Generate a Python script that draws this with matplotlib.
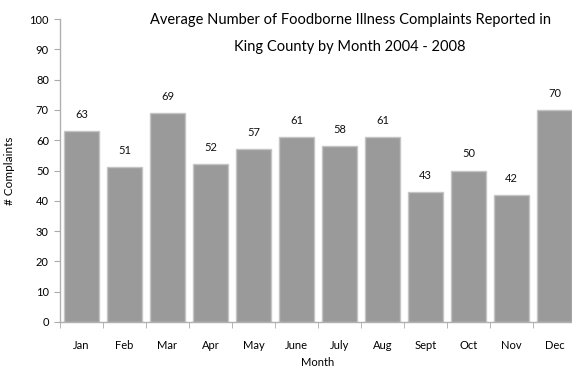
import matplotlib.pyplot as plt
import numpy as np

months = ['Jan', 'Feb', 'Mar', 'Apr', 'May', 'June', 'July', 'Aug', 'Sept', 'Oct', 'Nov', 'Dec']
complaints = [63, 51, 69, 52, 57, 61, 58, 61, 43, 50, 42, 70]

plt.rcParams['font.family'] = ['Lato', 'DejaVu Sans']

fig = plt.figure(figsize=(5.72, 3.68), dpi=100)
ax = fig.add_axes([60 / 572, 46 / 368, 516 / 572, 303 / 368])

x = np.arange(len(months))
bars = ax.bar(x, complaints, width=0.8, color='#9a9a9a', edgecolor='#c4c4c4', linewidth=1)

# value labels above the bars
for xi, v in zip(x, complaints):
    ax.annotate(str(v), (xi, v), xytext=(0, 8), textcoords='offset points',
                ha='center', va='bottom', fontsize=8, color='#111111')

ax.set_xlim(-0.5, len(months) - 0.5)
ax.set_ylim(0, 100)
ax.set_yticks(range(0, 101, 10))
ax.set_xticks(x)
ax.set_xticklabels(months, fontsize=8)
ax.set_xticks(np.arange(-0.5, len(months), 1), minor=True)
ax.tick_params(axis='x', which='major', length=0, pad=13)
ax.tick_params(axis='x', which='minor', length=4, color='#aaaaaa', direction='out')
ax.tick_params(axis='y', length=4, color='#aaaaaa', labelsize=8, pad=4)

for s in ['top', 'right']:
    ax.spines[s].set_visible(False)
for s in ['left', 'bottom']:
    ax.spines[s].set_color('#b0b0b0')
    ax.spines[s].set_linewidth(1)

ax.set_xlabel('Month', fontsize=8, labelpad=4)
ax.set_ylabel('# Complaints', fontsize=8.5, labelpad=10)

fig.text(350 / 572, 1 - 20 / 368, 'Average Number of Foodborne Illness Complaints Reported in',
         ha='center', va='center', fontsize=10.5)
fig.text(350 / 572, 1 - 47 / 368, 'King County by Month 2004 - 2008',
         ha='center', va='center', fontsize=10.5)

fig.savefig('out.png', dpi=100)
